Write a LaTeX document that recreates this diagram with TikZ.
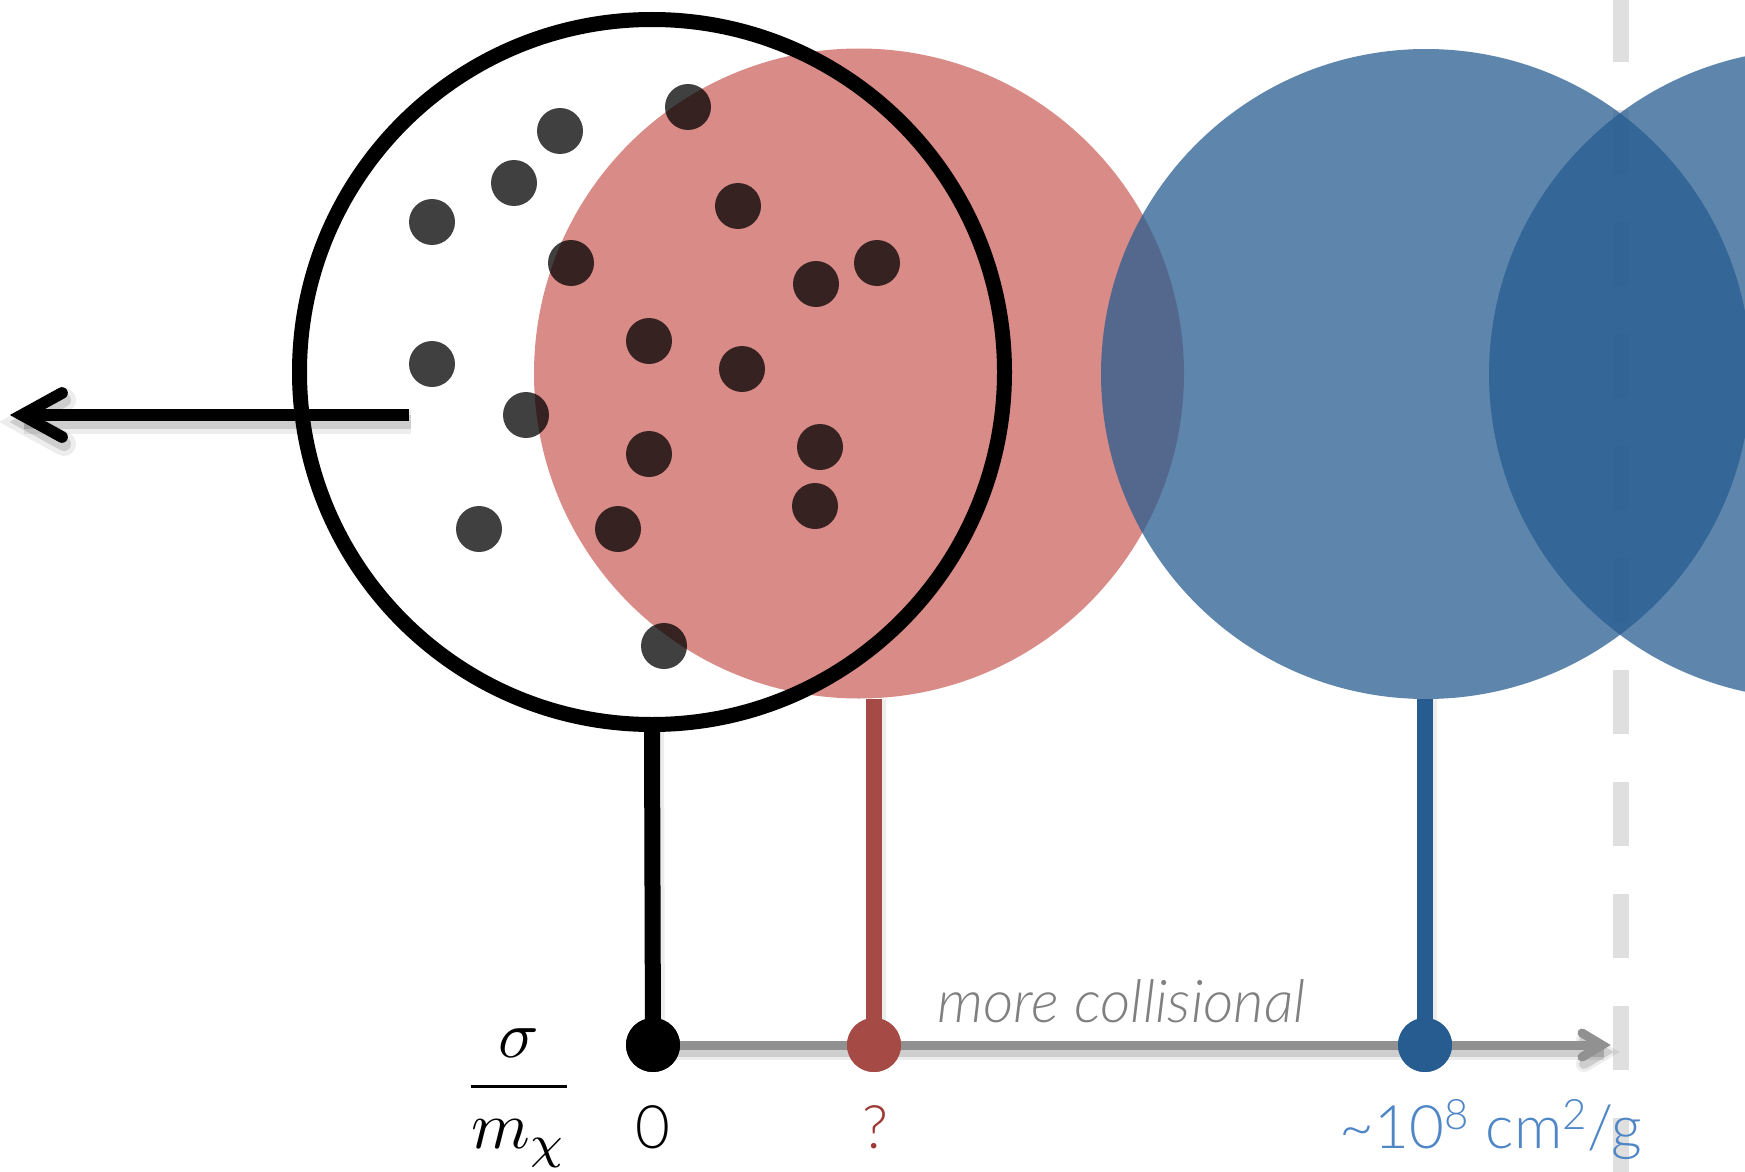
\documentclass[tikz,border=0pt]{standalone}
\usepackage{graphicx}
\usepackage{fontspec}
\newfontfamily\lightfont{Lato}[UprightFont={* Light},ItalicFont={* Light Italic}]
\definecolor{redfill}{RGB}{217,139,135}
\definecolor{redline}{RGB}{165,74,68}
\definecolor{redtext}{RGB}{158,58,54}
\definecolor{bluebase}{RGB}{38,92,145}
\definecolor{bluedot}{RGB}{39,92,145}
\definecolor{bluetext}{RGB}{79,134,198}
\definecolor{axisgray}{RGB}{145,145,145}
\definecolor{dashgray}{RGB}{223,223,223}
\definecolor{textgray}{RGB}{128,128,128}
\begin{document}
\begin{tikzpicture}[x=0.5pt,y=-0.5pt,
  dotstyle/.style={circle,fill=black,fill opacity=0.75,inner sep=0pt,minimum size=23pt},
  axisdot/.style={circle,inner sep=0pt,minimum size=27pt},
  bigcirc/.style={circle,inner sep=0pt,minimum size=325pt},
  lbl/.style={inner sep=0pt,anchor=base,font=\lightfont\fontsize{30}{36}\selectfont},
  shadowsoft/.style={draw=black,opacity=0.07},
  shadowhard/.style={draw=black,opacity=0.13},
  stemline/.style={line width=8pt},
]
\useasboundingbox (0,0) rectangle (1745,1172);
\clip (0,0) rectangle (1745,1172);
% dashed limit line
\coordinate (dtop) at (1621,0);
\coordinate (dbot) at (1621,1172);
\draw[dashgray,line width=8pt,dash pattern=on 32pt off 24pt,dash phase=1pt] (dtop) -- (dbot);
% big circles
\node[bigcirc,fill=redfill] (redc) at (859,373.5) {};
\node[bigcirc,fill=bluebase,fill opacity=0.74] (bluec) at (1426,374) {};
\node[bigcirc,fill=bluebase,fill opacity=0.74] (bluecb) at (1814,374) {};
% particles
\foreach \px/\py [count=\i] in {688/107,560/131,514/183,432/222,738/206,571/263,877/263,816/284,649/341,742/369,432/364,526/415,649/454,820/447,815/506,479/529,618/529,664/646}
  \node[dotstyle] (d\i) at (\px,\py) {};
% black outline circle
\node[circle,draw=black,line width=7.5pt,inner sep=0pt,minimum size=352.5pt] (blackc) at (652,372) {};
% coordinates
\coordinate (bstart) at (409,415);
\coordinate (btip) at (22,415);
\coordinate (bup) at (62,393);
\coordinate (bdn) at (62,437);
\coordinate (axtip) at (1602,1045);
\coordinate (axup) at (1582,1033);
\coordinate (axdn) at (1582,1057);
\coordinate (k0) at (653,1045);
% shadows
\begin{scope}[transform canvas={xshift=1pt,yshift=-3.5pt}]
  \draw[shadowsoft,line width=12pt] (bstart) -- (btip);
  \draw[shadowhard,line width=7pt] (bstart) -- (btip);
  \draw[shadowsoft,line width=12pt,line cap=round] (bup) -- (btip) -- (bdn);
  \draw[shadowhard,line width=7pt,line cap=round] (bup) -- (btip) -- (bdn);
  \draw[shadowsoft,line width=8pt] (k0) -- (axtip);
  \draw[shadowhard,line width=5pt] (k0) -- (axtip);
  \draw[shadowsoft,line width=8pt,line cap=round] (axup) -- (axtip) -- (axdn);
  \draw[shadowhard,line width=5pt,line cap=round] (axup) -- (axtip) -- (axdn);
\end{scope}
% arrow to the left
\draw[line width=5.85pt] (bstart) -- (btip);
\draw[line width=5.85pt,line cap=round,line join=miter] (bup) -- (btip) -- (bdn);
% axis
\draw[axisgray,line width=4.5pt] (k0) -- (axtip);
\draw[axisgray,line width=4.5pt,line cap=round,line join=miter] (axup) -- (axtip) -- (axdn);
% axis points
\node[axisdot,fill=black] (p0) at (653,1045) {};
\node[axisdot,fill=redline] (p1) at (874,1045) {};
\node[axisdot,fill=bluedot] (p2) at (1425,1045) {};
% stems
\begin{scope}[transform canvas={xshift=1pt}]
  \draw[shadowsoft,line width=10pt] (blackc.south) -- (p0.center);
  \draw[shadowsoft,line width=10pt] (redc.south -| p1) -- (p1.center);
  \draw[shadowsoft,line width=10pt] (bluec.south -| p2) -- (p2.center);
\end{scope}
\draw[stemline] (blackc.south) -- (p0.center);
\draw[stemline,redline] (redc.south -| p1) -- (p1.center);
\draw[stemline,bluedot] (bluec.south -| p2) -- (p2.center);
\node[axisdot,fill=black] at (p0) {};
\node[axisdot,fill=redline] at (p1) {};
\node[axisdot,fill=bluedot] at (p2) {};
% labels
\node[inner sep=0pt,anchor=base] (frac) at (519,1103) {\resizebox*{!}{69.5pt}{$\displaystyle\frac{\sigma}{m_\chi}$}};
\node[lbl] (l0) at (653,1148) {0};
\node[lbl,text=redtext] (lq) at (875,1148) {?};
\node[lbl,text=bluetext] (lv) at (1491,1148) {\textasciitilde10\textsuperscript{8} cm\textsuperscript{2}/g};
\node[inner sep=0pt,anchor=base west,text=textgray,font=\lightfont\itshape\fontsize{29.5}{36}\selectfont] (lmc) at (937,1022) {more collisional};
\end{tikzpicture}
\end{document}
